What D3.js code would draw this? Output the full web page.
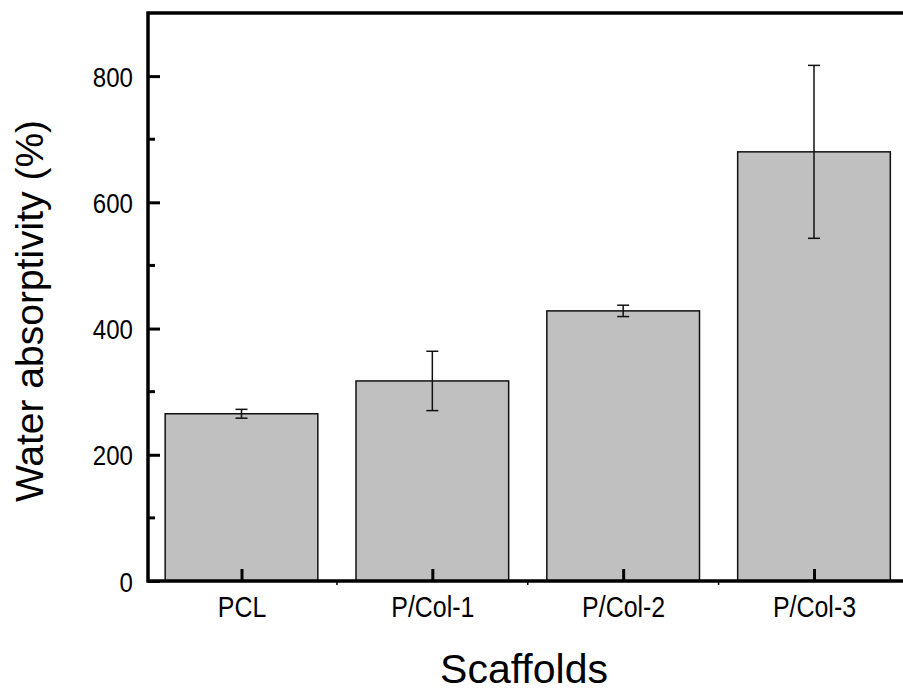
<!DOCTYPE html>
<html>
<head>
<meta charset="utf-8">
<script src="https://cdn.jsdelivr.net/npm/d3@7"></script>
<style>
  body { margin: 0; background: #fff; }
  .tick-label { font-family: "Liberation Sans", Arial, sans-serif; fill: #000; }
  .title { font-family: "Liberation Sans", Arial, sans-serif; fill: #000; }
</style>
</head>
<body>
<svg id="chart" width="903" height="693"></svg>
<script>
// data
let categories = ["PCL", "P/Col-1", "P/Col-2", "P/Col-3"];
let means = [265, 317, 428, 680];
let errors = [7, 47, 9, 137];
let yTicks = [0, 200, 400, 600, 800];
let yMinorTicks = [100, 300, 500, 700];

let svg = d3.select("#chart");

let mLeft = 148, mRight = 909, mTop = 13, mBottom = 581;
let squeeze = 0.86; // narrow look of the tick labels

// scales
let x = d3.scaleLinear().domain([1, 4]).range([241.5, 814]);
let y = d3.scaleLinear().domain([0, 900]).range([mBottom, mTop]);
let barW = x(1.8) - x(1);

// bars
svg.selectAll("rect.bar")
  .data(means)
  .enter()
  .append("rect")
  .attr("class", "bar")
  .attr("x", (d, i) => x(i + 1) - barW / 2)
  .attr("y", (d) => y(d))
  .attr("width", barW)
  .attr("height", (d) => y(0) - y(d))
  .attr("fill", "#c0c0c0")
  .attr("stroke", "#111")
  .attr("stroke-width", 1.5);

// error bars
let err = svg.selectAll("g.err")
  .data(means)
  .enter()
  .append("g")
  .attr("class", "err")
  .attr("stroke", "#111")
  .attr("stroke-width", 1.5);

err.append("line")
  .attr("x1", (d, i) => x(i + 1))
  .attr("x2", (d, i) => x(i + 1))
  .attr("y1", (d, i) => y(d + errors[i]))
  .attr("y2", (d, i) => y(d - errors[i]));

err.append("line")
  .attr("x1", (d, i) => x(i + 1) - 6)
  .attr("x2", (d, i) => x(i + 1) + 6)
  .attr("y1", (d, i) => y(d + errors[i]))
  .attr("y2", (d, i) => y(d + errors[i]));

err.append("line")
  .attr("x1", (d, i) => x(i + 1) - 6)
  .attr("x2", (d, i) => x(i + 1) + 6)
  .attr("y1", (d, i) => y(d - errors[i]))
  .attr("y2", (d, i) => y(d - errors[i]));

// left axis
let yAxis = d3.axisLeft(y)
  .tickValues(yTicks)
  .tickSize(-12)
  .tickPadding(15)
  .tickFormat(d3.format("d"));

let gy = svg.append("g")
  .attr("transform", `translate(${mLeft},0)`)
  .call(yAxis);
gy.select(".domain").remove();
gy.selectAll(".tick line").attr("stroke", "#000").attr("stroke-width", 3);
gy.selectAll(".tick text")
  .attr("class", "tick-label")
  .attr("font-size", 28)
  .attr("x", -15 / squeeze)
  .attr("dy", "0.36em")
  .attr("transform", `scale(${squeeze},1)`);

svg.append("g")
  .selectAll("line")
  .data(yMinorTicks)
  .enter()
  .append("line")
  .attr("x1", mLeft)
  .attr("x2", mLeft + 7)
  .attr("y1", (d) => y(d))
  .attr("y2", (d) => y(d))
  .attr("stroke", "#000")
  .attr("stroke-width", 3);

// bottom axis
let xAxis = d3.axisBottom(x)
  .tickValues([1, 2, 3, 4])
  .tickSize(-12)
  .tickPadding(15)
  .tickFormat((d) => categories[d - 1]);

let gx = svg.append("g")
  .attr("transform", `translate(0,${mBottom})`)
  .call(xAxis);
gx.select(".domain").remove();
gx.selectAll(".tick line").attr("stroke", "#000").attr("stroke-width", 3);
gx.selectAll(".tick text")
  .attr("class", "tick-label")
  .attr("font-size", 29)
  .attr("transform", `scale(${squeeze},1)`);

svg.append("g")
  .selectAll("line")
  .data([1.5, 2.5, 3.5])
  .enter()
  .append("line")
  .attr("x1", (d) => x(d))
  .attr("x2", (d) => x(d))
  .attr("y1", mBottom)
  .attr("y2", mBottom + 4)
  .attr("stroke", "#000")
  .attr("stroke-width", 1.5);

// frame
svg.append("path")
  .attr("d", `M${mLeft},${mBottom}V${mTop}H${mRight}V${mBottom}Z`)
  .attr("fill", "none")
  .attr("stroke", "#000")
  .attr("stroke-width", 3.5);

// axis titles
svg.append("text")
  .attr("class", "title")
  .attr("transform", "translate(43,311) rotate(-90)")
  .attr("text-anchor", "middle")
  .attr("font-size", 39)
  .text("Water absorptivity (%)");

svg.append("text")
  .attr("class", "title")
  .attr("x", 524)
  .attr("y", 683)
  .attr("text-anchor", "middle")
  .attr("font-size", 41)
  .text("Scaffolds");
</script>
</body>
</html>
